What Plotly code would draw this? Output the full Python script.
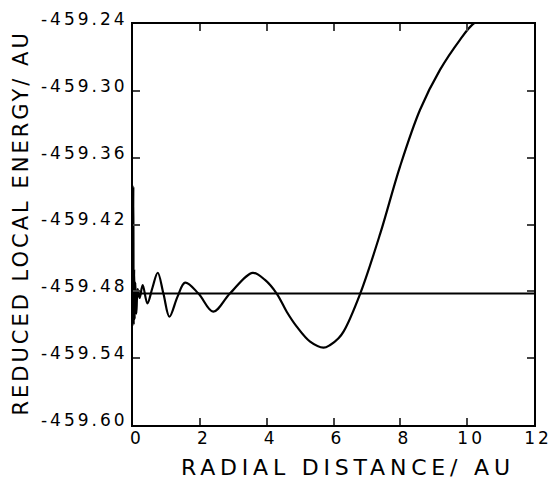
import plotly.graph_objects as go

# Reduced local energy curve
radial_distance = [0.0, 0.01, 0.02, 0.035, 0.05, 0.07, 0.10, 0.14, 0.20, 0.29, 0.43, 0.58,
                   0.74, 0.91, 1.09, 1.33, 1.56, 1.96, 2.40, 2.90, 3.58, 3.95, 4.30, 4.60,
                   4.90, 5.30, 5.70, 5.90, 6.15, 6.30, 6.80, 7.40, 7.99, 8.59, 9.19, 9.79,
                   10.14, 10.60]
local_energy = [-459.480, -459.386, -459.510, -459.460, -459.505, -459.472, -459.500, -459.478,
                -459.486, -459.4743, -459.4908, -459.477, -459.4633, -459.482, -459.5028,
                -459.485, -459.4722, -459.482, -459.4983, -459.482, -459.4634, -459.4698,
                -459.482, -459.4983, -459.5117, -459.5252, -459.5306, -459.5282, -459.5222,
                -459.5162, -459.482, -459.428, -459.368, -459.317, -459.281, -459.254,
                -459.241, -459.232]

# Reference energy level
reference_x = [0, 12]
reference_energy = [-459.482, -459.482]

x_ticks = [0, 2, 4, 6, 8, 10, 12]
y_ticks = [-459.60, -459.54, -459.48, -459.42, -459.36, -459.30, -459.24]
y_tick_labels = ["-459.60", "-459.54", "-459.48", "-459.42", "-459.36", "-459.30", "-459.24"]
x_title = "RADIAL DISTANCE/ AU"
y_title = "REDUCED LOCAL ENERGY/ AU"


def spaced(text, px):
    return f'<span style="letter-spacing:{px}px">{text}</span>'


fig = go.Figure()
fig.add_trace(go.Scatter(x=reference_x, y=reference_energy, mode="lines",
                         line=dict(color="black", width=2), showlegend=False))
fig.add_trace(go.Scatter(x=radial_distance, y=local_energy, mode="lines",
                         line=dict(color="black", width=2.2, shape="spline", smoothing=1.0),
                         showlegend=False))

font = "DejaVu Sans"
fig.update_layout(
    width=550, height=472,
    margin=dict(l=125, r=24, t=16, b=55),
    paper_bgcolor="white", plot_bgcolor="white",
    font=dict(family=font, color="black", size=17),
    xaxis=dict(range=[0, 12], tickvals=x_ticks,
               ticktext=[spaced(str(v), 3) for v in x_ticks],
               ticks="inside", ticklen=7, tickwidth=1.5,
               showline=True, linewidth=2, linecolor="black", mirror="ticks",
               showgrid=False, zeroline=False, tickfont=dict(size=17, family=font),
               ticklabelstandoff=-3, ticklabelshift=4, automargin=False),
    yaxis=dict(range=[-459.60, -459.24], tickvals=y_ticks,
               ticktext=[spaced(t, 3) for t in y_tick_labels],
               ticks="inside", ticklen=7, tickwidth=1.5,
               showline=True, linewidth=2, linecolor="black", mirror="ticks",
               showgrid=False, zeroline=False, tickfont=dict(size=17, family=font),
               ticklabelstandoff=0, ticklabelshift=-5, automargin=False),
    annotations=[
        dict(text=spaced(x_title, 4.8), xref="paper", yref="paper", x=0.536, y=-0.105,
             xanchor="center", yanchor="middle", showarrow=False,
             font=dict(size=22, family=font)),
        dict(text=spaced(y_title, 3), xref="paper", yref="paper", x=-0.280, y=0.504,
             xanchor="center", yanchor="middle", showarrow=False, textangle=-90,
             font=dict(size=21, family=font)),
    ],
)

fig.write_html("out.html")
